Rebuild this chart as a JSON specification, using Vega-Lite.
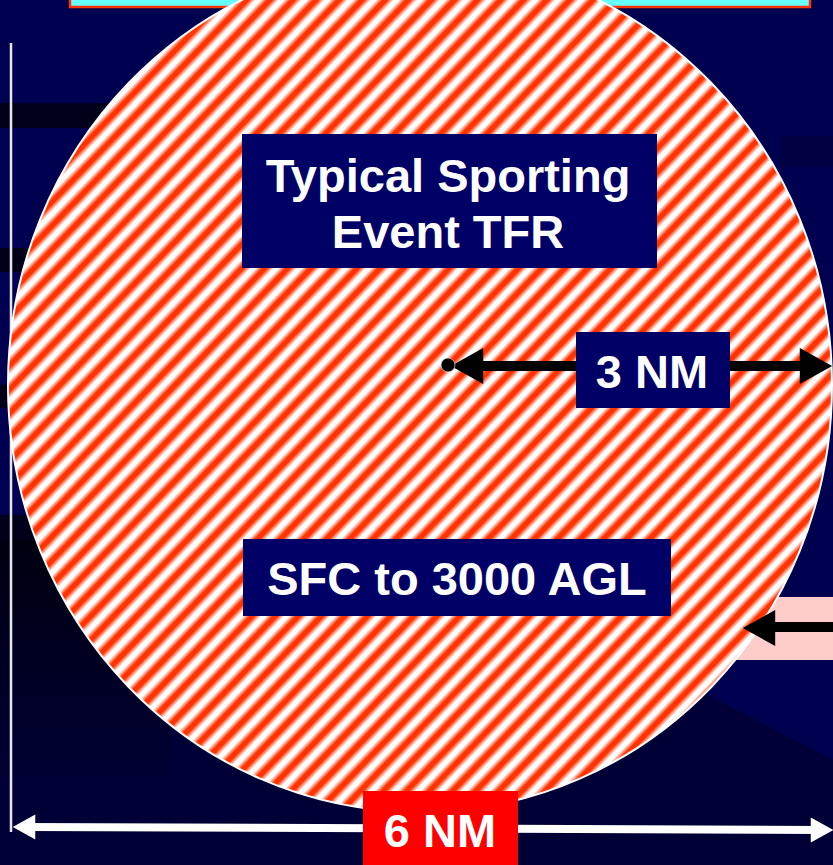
{
"$schema":"https://vega.github.io/schema/vega-lite/v6.json",
"width":833,"height":865,
"autosize":{"type":"none"},
"padding":0,
"background":"#000050",
"config":{"view":{"stroke":null}},
"datasets":{
"shade":[{"x":0,"y":540,"y2":865},{"x":350,"y":600,"y2":865},{"x":600,"y":640,"y2":865},{"x":707,"y":695,"y2":865},{"x":833,"y":760,"y2":865}],
"leftDark":[{"x":0,"x2":170,"y":540,"y2":780}],
"bands":[{"x":0,"x2":120,"y":103,"y2":128},{"x":0,"x2":40,"y":248,"y2":272},{"x":0,"x2":40,"y":385,"y2":408},{"x":0,"x2":60,"y":515,"y2":540}],
"rightBand":[{"x":780,"x2":833,"y":136,"y2":166}],
"pink":[{"x":700,"x2":833,"y":597,"y2":660}],
"topBar":[{"x":70,"x2":810,"y":-6,"y2":7}],
"vline":[{"x":11,"y":43,"y2":832}],
"tfr":[{"x":420,"y":385}],
"blackShafts":[{"x":470,"y":366,"x2":805,"y2":366},{"x":770,"y":627,"x2":833,"y2":627}],
"boxes":[{"label":"Typical Sporting Event TFR","x":242,"x2":657,"y":134,"y2":268},{"label":"3 NM","x":576,"x2":730,"y":332,"y2":408},{"label":"SFC to 3000 AGL","x":243,"x2":671,"y":539,"y2":616}],
"lines":[{"text":"Typical Sporting","x":448,"y":192},{"text":"Event TFR","x":448,"y":248},{"text":"3 NM","x":652,"y":388},{"text":"SFC to 3000 AGL","x":457,"y":595}],
"blackHeads":[{"x":467,"y":366,"end":"left"},{"x":816,"y":366,"end":"right"},{"x":759,"y":628,"end":"left"}],
"dot":[{"x":448,"y":365}],
"whiteShaft":[{"x":24,"y":827,"x2":822,"y2":830}],
"whiteHeads":[{"x":24,"y":827,"end":"left"},{"x":822,"y":830,"end":"right"}],
"redBox":[{"x":363,"x2":518,"y":791,"y2":870}],
"redText":[{"text":"6 NM","x":440,"y":847}]
},
"encoding":{
"x":{"field":"x","type":"quantitative","scale":{"domain":[0,833],"nice":false,"zero":false},"axis":null},
"y":{"field":"y","type":"quantitative","scale":{"domain":[0,865],"nice":false,"zero":false,"reverse":true},"axis":null}
},
"layer":[
{"data":{"name":"shade"},"mark":{"type":"area","color":"#000036","opacity":1},"encoding":{"y2":{"field":"y2"}}},
{"data":{"name":"leftDark"},"mark":{"type":"rect","fill":{"gradient":"linear","x1":0,"y1":0,"x2":0,"y2":1,"stops":[{"offset":0,"color":"#000010"},{"offset":1,"color":"#000034"}]}},"encoding":{"x2":{"field":"x2"},"y2":{"field":"y2"}}},
{"data":{"name":"bands"},"mark":{"type":"rect","color":"#00001a"},"encoding":{"x2":{"field":"x2"},"y2":{"field":"y2"}}},
{"data":{"name":"rightBand"},"mark":{"type":"rect","color":"#000042"},"encoding":{"x2":{"field":"x2"},"y2":{"field":"y2"}}},
{"data":{"name":"pink"},"mark":{"type":"rect","color":"#ffcccc"},"encoding":{"x2":{"field":"x2"},"y2":{"field":"y2"}}},
{"data":{"name":"topBar"},"mark":{"type":"rect","fill":"#66ffff","stroke":"#ff3300","strokeWidth":2.5},"encoding":{"x2":{"field":"x2"},"y2":{"field":"y2"}}},
{"data":{"name":"vline"},"mark":{"type":"rule","color":"#e6e6f0","strokeWidth":2.5},"encoding":{"y2":{"field":"y2"}}},
{"data":{"name":"tfr"},"mark":{"type":"point","shape":"M1,0C1,0.5724,0.5523,1.0364,0,1.0364C-0.5523,1.0364,-1,0.5724,-1,0C-1,-0.5724,-0.5523,-1.0364,0,-1.0364C0.5523,-1.0364,1,-0.5724,1,0Z","size":678976,"filled":true,"opacity":1,"stroke":"#ffffff","strokeWidth":2,
"fill":{"gradient":"linear","x1":0,"y1":0,"x2":1,"y2":1,"stops":[
{"offset":0,"color":"#f30"},{"offset":0.003,"color":"#f30"},{"offset":0.007,"color":"#fff"},{"offset":0.010,"color":"#fff"},
{"offset":0.014,"color":"#f30"},{"offset":0.017,"color":"#f30"},{"offset":0.021,"color":"#fff"},{"offset":0.024,"color":"#fff"},
{"offset":0.028,"color":"#f30"},{"offset":0.031,"color":"#f30"},{"offset":0.035,"color":"#fff"},{"offset":0.038,"color":"#fff"},
{"offset":0.042,"color":"#f30"},{"offset":0.045,"color":"#f30"},{"offset":0.049,"color":"#fff"},{"offset":0.052,"color":"#fff"},
{"offset":0.056,"color":"#f30"},{"offset":0.059,"color":"#f30"},{"offset":0.063,"color":"#fff"},{"offset":0.066,"color":"#fff"},
{"offset":0.070,"color":"#f30"},{"offset":0.073,"color":"#f30"},{"offset":0.077,"color":"#fff"},{"offset":0.080,"color":"#fff"},
{"offset":0.084,"color":"#f30"},{"offset":0.087,"color":"#f30"},{"offset":0.091,"color":"#fff"},{"offset":0.094,"color":"#fff"},
{"offset":0.098,"color":"#f30"},{"offset":0.101,"color":"#f30"},{"offset":0.105,"color":"#fff"},{"offset":0.108,"color":"#fff"},
{"offset":0.112,"color":"#f30"},{"offset":0.115,"color":"#f30"},{"offset":0.119,"color":"#fff"},{"offset":0.122,"color":"#fff"},
{"offset":0.126,"color":"#f30"},{"offset":0.129,"color":"#f30"},{"offset":0.133,"color":"#fff"},{"offset":0.136,"color":"#fff"},
{"offset":0.140,"color":"#f30"},{"offset":0.143,"color":"#f30"},{"offset":0.147,"color":"#fff"},{"offset":0.150,"color":"#fff"},
{"offset":0.154,"color":"#f30"},{"offset":0.157,"color":"#f30"},{"offset":0.161,"color":"#fff"},{"offset":0.164,"color":"#fff"},
{"offset":0.168,"color":"#f30"},{"offset":0.171,"color":"#f30"},{"offset":0.175,"color":"#fff"},{"offset":0.178,"color":"#fff"},
{"offset":0.182,"color":"#f30"},{"offset":0.185,"color":"#f30"},{"offset":0.189,"color":"#fff"},{"offset":0.192,"color":"#fff"},
{"offset":0.196,"color":"#f30"},{"offset":0.199,"color":"#f30"},{"offset":0.203,"color":"#fff"},{"offset":0.206,"color":"#fff"},
{"offset":0.210,"color":"#f30"},{"offset":0.213,"color":"#f30"},{"offset":0.217,"color":"#fff"},{"offset":0.220,"color":"#fff"},
{"offset":0.224,"color":"#f30"},{"offset":0.227,"color":"#f30"},{"offset":0.231,"color":"#fff"},{"offset":0.234,"color":"#fff"},
{"offset":0.238,"color":"#f30"},{"offset":0.241,"color":"#f30"},{"offset":0.245,"color":"#fff"},{"offset":0.248,"color":"#fff"},
{"offset":0.252,"color":"#f30"},{"offset":0.255,"color":"#f30"},{"offset":0.259,"color":"#fff"},{"offset":0.262,"color":"#fff"},
{"offset":0.266,"color":"#f30"},{"offset":0.269,"color":"#f30"},{"offset":0.273,"color":"#fff"},{"offset":0.276,"color":"#fff"},
{"offset":0.280,"color":"#f30"},{"offset":0.283,"color":"#f30"},{"offset":0.287,"color":"#fff"},{"offset":0.290,"color":"#fff"},
{"offset":0.294,"color":"#f30"},{"offset":0.297,"color":"#f30"},{"offset":0.301,"color":"#fff"},{"offset":0.304,"color":"#fff"},
{"offset":0.308,"color":"#f30"},{"offset":0.311,"color":"#f30"},{"offset":0.315,"color":"#fff"},{"offset":0.318,"color":"#fff"},
{"offset":0.322,"color":"#f30"},{"offset":0.325,"color":"#f30"},{"offset":0.329,"color":"#fff"},{"offset":0.332,"color":"#fff"},
{"offset":0.336,"color":"#f30"},{"offset":0.339,"color":"#f30"},{"offset":0.343,"color":"#fff"},{"offset":0.346,"color":"#fff"},
{"offset":0.350,"color":"#f30"},{"offset":0.353,"color":"#f30"},{"offset":0.357,"color":"#fff"},{"offset":0.360,"color":"#fff"},
{"offset":0.364,"color":"#f30"},{"offset":0.367,"color":"#f30"},{"offset":0.371,"color":"#fff"},{"offset":0.374,"color":"#fff"},
{"offset":0.378,"color":"#f30"},{"offset":0.381,"color":"#f30"},{"offset":0.385,"color":"#fff"},{"offset":0.388,"color":"#fff"},
{"offset":0.392,"color":"#f30"},{"offset":0.395,"color":"#f30"},{"offset":0.399,"color":"#fff"},{"offset":0.402,"color":"#fff"},
{"offset":0.406,"color":"#f30"},{"offset":0.409,"color":"#f30"},{"offset":0.413,"color":"#fff"},{"offset":0.416,"color":"#fff"},
{"offset":0.420,"color":"#f30"},{"offset":0.423,"color":"#f30"},{"offset":0.427,"color":"#fff"},{"offset":0.430,"color":"#fff"},
{"offset":0.434,"color":"#f30"},{"offset":0.437,"color":"#f30"},{"offset":0.441,"color":"#fff"},{"offset":0.444,"color":"#fff"},
{"offset":0.448,"color":"#f30"},{"offset":0.451,"color":"#f30"},{"offset":0.455,"color":"#fff"},{"offset":0.458,"color":"#fff"},
{"offset":0.462,"color":"#f30"},{"offset":0.465,"color":"#f30"},{"offset":0.469,"color":"#fff"},{"offset":0.472,"color":"#fff"},
{"offset":0.476,"color":"#f30"},{"offset":0.479,"color":"#f30"},{"offset":0.483,"color":"#fff"},{"offset":0.486,"color":"#fff"},
{"offset":0.490,"color":"#f30"},{"offset":0.493,"color":"#f30"},{"offset":0.497,"color":"#fff"},{"offset":0.500,"color":"#fff"},
{"offset":0.504,"color":"#f30"},{"offset":0.507,"color":"#f30"},{"offset":0.511,"color":"#fff"},{"offset":0.514,"color":"#fff"},
{"offset":0.518,"color":"#f30"},{"offset":0.521,"color":"#f30"},{"offset":0.525,"color":"#fff"},{"offset":0.528,"color":"#fff"},
{"offset":0.532,"color":"#f30"},{"offset":0.535,"color":"#f30"},{"offset":0.539,"color":"#fff"},{"offset":0.542,"color":"#fff"},
{"offset":0.546,"color":"#f30"},{"offset":0.549,"color":"#f30"},{"offset":0.553,"color":"#fff"},{"offset":0.556,"color":"#fff"},
{"offset":0.560,"color":"#f30"},{"offset":0.563,"color":"#f30"},{"offset":0.567,"color":"#fff"},{"offset":0.570,"color":"#fff"},
{"offset":0.574,"color":"#f30"},{"offset":0.577,"color":"#f30"},{"offset":0.581,"color":"#fff"},{"offset":0.584,"color":"#fff"},
{"offset":0.588,"color":"#f30"},{"offset":0.591,"color":"#f30"},{"offset":0.595,"color":"#fff"},{"offset":0.598,"color":"#fff"},
{"offset":0.602,"color":"#f30"},{"offset":0.605,"color":"#f30"},{"offset":0.609,"color":"#fff"},{"offset":0.612,"color":"#fff"},
{"offset":0.616,"color":"#f30"},{"offset":0.619,"color":"#f30"},{"offset":0.623,"color":"#fff"},{"offset":0.626,"color":"#fff"},
{"offset":0.630,"color":"#f30"},{"offset":0.633,"color":"#f30"},{"offset":0.637,"color":"#fff"},{"offset":0.640,"color":"#fff"},
{"offset":0.644,"color":"#f30"},{"offset":0.647,"color":"#f30"},{"offset":0.651,"color":"#fff"},{"offset":0.654,"color":"#fff"},
{"offset":0.658,"color":"#f30"},{"offset":0.661,"color":"#f30"},{"offset":0.665,"color":"#fff"},{"offset":0.668,"color":"#fff"},
{"offset":0.672,"color":"#f30"},{"offset":0.675,"color":"#f30"},{"offset":0.679,"color":"#fff"},{"offset":0.682,"color":"#fff"},
{"offset":0.686,"color":"#f30"},{"offset":0.689,"color":"#f30"},{"offset":0.693,"color":"#fff"},{"offset":0.696,"color":"#fff"},
{"offset":0.700,"color":"#f30"},{"offset":0.703,"color":"#f30"},{"offset":0.707,"color":"#fff"},{"offset":0.710,"color":"#fff"},
{"offset":0.714,"color":"#f30"},{"offset":0.717,"color":"#f30"},{"offset":0.721,"color":"#fff"},{"offset":0.724,"color":"#fff"},
{"offset":0.728,"color":"#f30"},{"offset":0.731,"color":"#f30"},{"offset":0.735,"color":"#fff"},{"offset":0.738,"color":"#fff"},
{"offset":0.742,"color":"#f30"},{"offset":0.745,"color":"#f30"},{"offset":0.749,"color":"#fff"},{"offset":0.752,"color":"#fff"},
{"offset":0.756,"color":"#f30"},{"offset":0.759,"color":"#f30"},{"offset":0.763,"color":"#fff"},{"offset":0.766,"color":"#fff"},
{"offset":0.770,"color":"#f30"},{"offset":0.773,"color":"#f30"},{"offset":0.777,"color":"#fff"},{"offset":0.780,"color":"#fff"},
{"offset":0.784,"color":"#f30"},{"offset":0.787,"color":"#f30"},{"offset":0.791,"color":"#fff"},{"offset":0.794,"color":"#fff"},
{"offset":0.798,"color":"#f30"},{"offset":0.801,"color":"#f30"},{"offset":0.805,"color":"#fff"},{"offset":0.808,"color":"#fff"},
{"offset":0.812,"color":"#f30"},{"offset":0.815,"color":"#f30"},{"offset":0.819,"color":"#fff"},{"offset":0.822,"color":"#fff"},
{"offset":0.826,"color":"#f30"},{"offset":0.829,"color":"#f30"},{"offset":0.833,"color":"#fff"},{"offset":0.836,"color":"#fff"},
{"offset":0.840,"color":"#f30"},{"offset":0.843,"color":"#f30"},{"offset":0.847,"color":"#fff"},{"offset":0.850,"color":"#fff"},
{"offset":0.854,"color":"#f30"},{"offset":0.857,"color":"#f30"},{"offset":0.861,"color":"#fff"},{"offset":0.864,"color":"#fff"},
{"offset":0.868,"color":"#f30"},{"offset":0.871,"color":"#f30"},{"offset":0.875,"color":"#fff"},{"offset":0.878,"color":"#fff"},
{"offset":0.882,"color":"#f30"},{"offset":0.885,"color":"#f30"},{"offset":0.889,"color":"#fff"},{"offset":0.892,"color":"#fff"},
{"offset":0.896,"color":"#f30"},{"offset":0.899,"color":"#f30"},{"offset":0.903,"color":"#fff"},{"offset":0.906,"color":"#fff"},
{"offset":0.910,"color":"#f30"},{"offset":0.913,"color":"#f30"},{"offset":0.917,"color":"#fff"},{"offset":0.920,"color":"#fff"},
{"offset":0.924,"color":"#f30"},{"offset":0.927,"color":"#f30"},{"offset":0.931,"color":"#fff"},{"offset":0.934,"color":"#fff"},
{"offset":0.938,"color":"#f30"},{"offset":0.941,"color":"#f30"},{"offset":0.945,"color":"#fff"},{"offset":0.948,"color":"#fff"},
{"offset":0.952,"color":"#f30"},{"offset":0.955,"color":"#f30"},{"offset":0.959,"color":"#fff"},{"offset":0.962,"color":"#fff"},
{"offset":0.966,"color":"#f30"},{"offset":0.969,"color":"#f30"},{"offset":0.973,"color":"#fff"},{"offset":0.976,"color":"#fff"},
{"offset":0.980,"color":"#f30"},{"offset":0.983,"color":"#f30"},{"offset":0.987,"color":"#fff"},{"offset":0.990,"color":"#fff"},
{"offset":0.994,"color":"#f30"},{"offset":0.997,"color":"#f30"}
]}}},
{"data":{"name":"blackShafts"},"mark":{"type":"rule","color":"#000000","strokeWidth":10,"strokeCap":"butt"},"encoding":{"x2":{"field":"x2"},"y2":{"field":"y2"}}},
{"data":{"name":"boxes"},"mark":{"type":"rect","color":"#000066"},"encoding":{"x2":{"field":"x2"},"y2":{"field":"y2"}}},
{"data":{"name":"lines"},"mark":{"type":"text","font":"Liberation Sans","fontWeight":"bold","fontSize":47,"color":"#ffffff","align":"center","baseline":"alphabetic"},"encoding":{"text":{"field":"text"}}},
{"data":{"name":"blackHeads"},"mark":{"type":"point","filled":true,"opacity":1,"color":"#000000","size":1296},"encoding":{"shape":{"field":"end","type":"nominal","scale":{"domain":["left","right"],"range":["M0.9,-1L-0.9,0L0.9,1Z","M-0.9,-1L0.9,0L-0.9,1Z"]},"legend":null}}},
{"data":{"name":"dot"},"mark":{"type":"point","shape":"circle","filled":true,"opacity":1,"fill":"#000000","stroke":"#ffffff","strokeWidth":1,"strokeOpacity":0.6,"size":196}},
{"data":{"name":"whiteShaft"},"mark":{"type":"rule","color":"#ffffff","strokeWidth":8,"strokeCap":"butt"},"encoding":{"x2":{"field":"x2"},"y2":{"field":"y2"}}},
{"data":{"name":"whiteHeads"},"mark":{"type":"point","filled":true,"opacity":1,"color":"#ffffff","size":625},"encoding":{"shape":{"field":"end","type":"nominal","scale":{"domain":["left","right"],"range":["M0.9,-1L-0.9,0L0.9,1Z","M-0.9,-1L0.9,0L-0.9,1Z"]},"legend":null}}},
{"data":{"name":"redBox"},"mark":{"type":"rect","color":"#ff0000"},"encoding":{"x2":{"field":"x2"},"y2":{"field":"y2"}}},
{"data":{"name":"redText"},"mark":{"type":"text","font":"Liberation Sans","fontWeight":"bold","fontSize":47,"color":"#ffffff","align":"center","baseline":"alphabetic"},"encoding":{"text":{"field":"text"}}}
]
}
